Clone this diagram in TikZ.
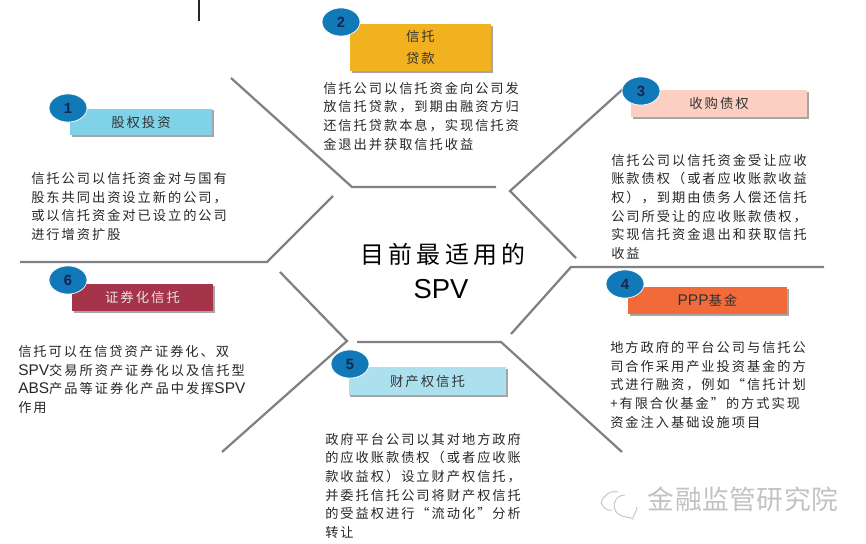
\documentclass[tikz,border=0pt]{standalone}
\usepackage{fontspec}
\setmainfont[LetterSpace=15]{Noto Sans CJK SC}
\newfontfamily\latinfont{Liberation Sans}
\newfontfamily\titlefont[LetterSpace=18]{Noto Sans CJK SC}
\newfontfamily\markfont[LetterSpace=2]{Noto Sans CJK SC}
\usepackage{xcolor}
\usetikzlibrary{shapes.geometric,shadows}
\definecolor{spinegray}{HTML}{808085}
\definecolor{badgeblue}{HTML}{1279B8}
\definecolor{badgenum}{HTML}{12264F}
\definecolor{headone}{HTML}{7FD2E8}
\definecolor{headtwo}{HTML}{F2B11F}
\definecolor{headthree}{HTML}{FBD0C2}
\definecolor{headfour}{HTML}{F26A3A}
\definecolor{headfive}{HTML}{ACE0EE}
\definecolor{headsix}{HTML}{A5334A}
\tikzset{
  spine/.style={draw=spinegray,line width=1.6pt},
  headbox/.style={rectangle,inner sep=0pt,text=black!80,font=\fontsize{9.5}{11.5}\selectfont,align=center,
    drop shadow={shadow xshift=1.2pt,shadow yshift=-1.2pt,opacity=.35,fill=black}},
  badge/.style={ellipse,fill=badgeblue,draw=white,line width=.5pt,minimum width=27pt,minimum height=20pt,inner sep=0pt,
    text=badgenum,font=\latinfont\bfseries\fontsize{10.5}{12}\selectfont},
  bodytext/.style={anchor=north west,inner sep=0pt,align=left,text=black!85,font=\fontsize{9.4}{13.3}\selectfont},
  markline/.style={draw=black!22,line width=.7pt}
}
\newcommand{\lat}[1]{{\latinfont\fontsize{11}{13.3}\selectfont #1}}
\begin{document}
\begin{tikzpicture}[x=0.025cm,y=-0.025cm]
\useasboundingbox (0,0) rectangle (866,544);
% spines
\draw[line width=.8pt,black!85] (199,0)--(199,21);
\draw[spine] (231,78)--(352,187)--(496,187);
\draw[spine] (333,196)--(267,262)--(20,262);
\draw[spine] (623,89)--(510,191)--(576,258);
\draw[spine] (824,267)--(571,267)--(511,334);
\draw[spine] (357,342)--(501,342)--(622,452);
\draw[spine] (280,272)--(347,341)--(222,452);
% centre
\node (centre) at (443,254){\titlefont\fontsize{17}{20}\selectfont 目前最适用的};
\node (spv) at (441,289){\latinfont\fontsize{19.5}{22}\selectfont SPV};
% 1
\node[headbox,fill=headone,minimum width=101pt,minimum height=19pt] (head1) at (141,122){股权投资};
\node[badge] (num1) at (68,108){1};
\node[bodytext] (body1) at (31,172){信托公司以信托资金对与国有\\股东共同出资设立新的公司，\\或以信托资金对已设立的公司\\进行增资扩股};
% 2
\node[headbox,fill=headtwo,minimum width=100pt,minimum height=33.5pt] (head2) at (420.5,47.5){信托\\[4pt]贷款};
\node[badge] (num2) at (341,22){2};
\node[bodytext] (body2) at (323,81.5){信托公司以信托资金向公司发\\放信托贷款，到期由融资方归\\还信托贷款本息，实现信托资\\金退出并获取信托收益};
% 3
\node[headbox,fill=headthree,minimum width=125pt,minimum height=19pt] (head3) at (719,103.5){收购债权};
\node[badge] (num3) at (641,91){3};
\node[bodytext] (body3) at (611,153.5){信托公司以信托资金受让应收\\账款债权（或者应收账款收益\\权），到期由债务人偿还信托\\公司所受让的应收账款债权，\\实现信托资金退出和获取信托\\收益};
% 4
\node[headbox,fill=headfour,minimum width=113pt,minimum height=19pt] (head4) at (707.5,300.5){\lat{PPP}基金};
\node[badge] (num4) at (625,284){4};
\node[bodytext] (body4) at (610,341){地方政府的平台公司与信托公\\司合作采用产业投资基金的方\\式进行融资，例如“信托计划\\+有限合伙基金”的方式实现\\资金注入基础设施项目};
% 5
\node[headbox,fill=headfive,minimum width=112pt,minimum height=20pt] (head5) at (427.5,381){财产权信托};
\node[badge] (num5) at (350,364){5};
\node[bodytext] (body5) at (325,432.5){政府平台公司以其对地方政府\\的应收账款债权（或者应收账\\款收益权）设立财产权信托，\\并委托信托公司将财产权信托\\的受益权进行“流动化”分析\\转让};
% 6
\node[headbox,fill=headsix,text=white!90!black,minimum width=100pt,minimum height=19pt] (head6) at (142.5,297.5){证券化信托};
\node[badge] (num6) at (68,280){6};
\node[bodytext] (body6) at (18,345){信托可以在信贷资产证券化、双\\\lat{SPV}交易所资产证券化以及信托型\\\lat{ABS}产品等证券化产品中发挥\lat{SPV}\\作用};
% watermark
\draw[markline] (618,492) .. controls (610,490) and (603,496) .. (601,503);
\draw[markline] (601,503) .. controls (604,509) and (608,511) .. (612,510);
\draw[markline] (625,495) .. controls (614,495) and (611,508) .. (618,514) .. controls (624,518) and (631,517) .. (633,519) .. controls (632,516) and (637,512) .. (637,507);
\node[text=black!24] (mark) at (743,499){\markfont\fontsize{19}{22}\selectfont 金融监管研究院};
\end{tikzpicture}
\end{document}
